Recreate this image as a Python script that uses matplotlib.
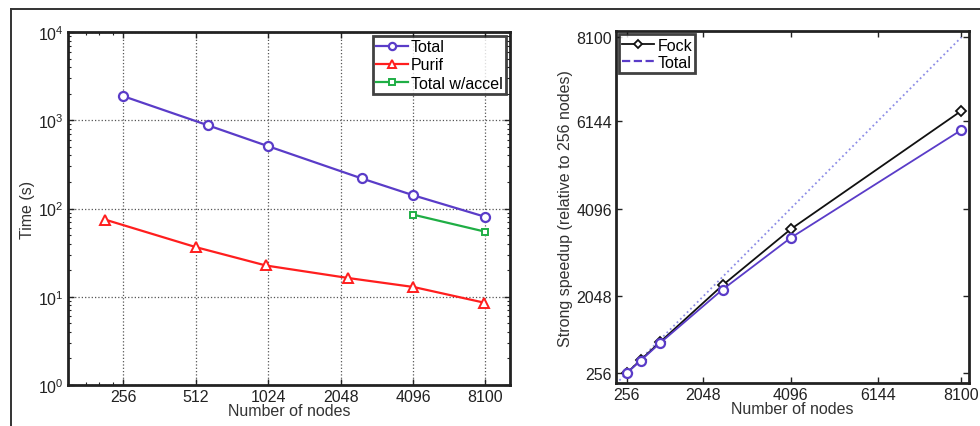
import matplotlib
matplotlib.use("Agg")
import matplotlib.pyplot as plt
from matplotlib.lines import Line2D
from matplotlib.ticker import FixedLocator, LogLocator, NullFormatter

plt.rcParams['font.family'] = ['Liberation Sans', 'DejaVu Sans']
plt.rcParams['mathtext.fontset'] = 'custom'
plt.rcParams['mathtext.rm'] = 'Liberation Sans'

# ---- data (left panel) ----
total_nodes = [256, 576, 1024, 2500, 4096, 8100]
total_time = [1875, 875, 507, 219, 141, 80.7]
purif_nodes = [216, 512, 1000, 2197, 4096, 8000]
purif_time = [74.6, 36.5, 22.6, 16.3, 12.9, 8.6]
accel_nodes = [4096, 8100]
accel_time = [85, 54.7]
left_xticks = [256, 512, 1024, 2048, 4096, 8100]

# ---- data (right panel) ----
speed_nodes = [256, 576, 1024, 2500, 4096, 8100]
fock_speedup = [256, 557, 968, 2305, 3613, 6381]
total_speedup = [256, 541, 945, 2205, 3411, 5933]
ideal_nodes = [0, 8100]
ideal_speedup = [0, 8100]
right_ticks = [256, 2048, 4096, 6144, 8100]

PURPLE = '#5a3cc8'
RED = '#ff1e1e'
GREEN = '#1fae45'
IDEAL = '#8c8ce6'

fig = plt.figure(figsize=(9.8, 4.27), dpi=100)

# outer frame
fig.add_artist(Line2D([11/980, 1.0], [1-10/427, 1-10/427], transform=fig.transFigure,
                      color='#333333', lw=1.4))
fig.add_artist(Line2D([11/980, 11/980], [0, 1-10/427], transform=fig.transFigure,
                      color='#333333', lw=1.4))

FS = 11.5
LFS = 11.5

# ---------------- left panel ----------------
ax = fig.add_axes([68/980, 1-386/427, 442/980, 353/427])
ax.set_xscale('log')
ax.set_yscale('log')
ax.plot(total_nodes, total_time, '-o', color=PURPLE, lw=1.6, ms=6.5,
        mfc='white', mec=PURPLE, mew=1.6, label='Total', zorder=3)
ax.plot(purif_nodes, purif_time, '-^', color=RED, lw=1.6, ms=7,
        mfc='white', mec=RED, mew=1.4, label='Purif', zorder=3)
ax.plot(accel_nodes, accel_time, '-s', color=GREEN, lw=1.6, ms=5,
        mfc='white', mec=GREEN, mew=1.4, label='Total w/accel', zorder=3)
ax.set_xlim(151, 10300)
ax.set_ylim(1, 1e4)
ax.xaxis.set_major_locator(FixedLocator(left_xticks))
ax.set_xticklabels([str(t) for t in left_xticks])
ax.xaxis.set_minor_locator(FixedLocator([180, 203, 231]))
ax.xaxis.set_minor_formatter(NullFormatter())
ax.yaxis.set_major_locator(FixedLocator([1, 10, 100, 1000, 10000]))
ax.set_yticklabels([r'$10^{0}$', r'$10^{1}$', r'$10^{2}$', r'$10^{3}$', r'$10^{4}$'])
ax.yaxis.set_minor_locator(LogLocator(base=10, subs=range(2, 10)))
ax.yaxis.set_minor_formatter(NullFormatter())
ax.grid(True, which='major', linestyle=':', color='#555555', lw=0.9)
ax.tick_params(which='both', direction='in', top=True, right=True, labelsize=FS,
               colors='#222222', pad=3)
ax.tick_params(which='major', length=4, width=1)
ax.tick_params(which='minor', length=2.5, width=0.8)
for s in ax.spines.values():
    s.set_linewidth(2)
    s.set_color('#222222')
ax.set_xlabel('Number of nodes', fontsize=LFS, labelpad=-1, color='#333333')
ax.set_ylabel('Time (s)', fontsize=LFS, labelpad=2, color='#333333')
leg = ax.legend(loc='upper right', fontsize=LFS, frameon=True, fancybox=False,
                borderpad=0.2, handlelength=2.0, handletextpad=0.2, labelspacing=0.2,
                borderaxespad=0.25, markerscale=0.8)
leg.get_frame().set_edgecolor('#111111')
leg.get_frame().set_linewidth(2)

# ---------------- right panel ----------------
bx = fig.add_axes([616/980, 1-384/427, 353/980, 351.7/427])
bx.plot(ideal_nodes, ideal_speedup, ':', color=IDEAL, lw=1.3, zorder=2)
bx.plot(speed_nodes, fock_speedup, '-D', color='#111111', lw=1.3, ms=5,
        mfc='white', mec='#111111', mew=1.3, zorder=3)
bx.plot(speed_nodes, total_speedup, '-o', color=PURPLE, lw=1.3, ms=6.5,
        mfc='white', mec=PURPLE, mew=1.6, zorder=3)
bx.set_xlim(0, 8280)
bx.set_ylim(20, 8240)
bx.set_xticks(right_ticks)
bx.set_xticklabels([str(t) for t in right_ticks])
bx.set_yticks(right_ticks)
bx.set_yticklabels([str(t) for t in right_ticks])
bx.tick_params(direction='in', top=True, right=True, labelsize=FS, length=4, width=1,
               colors='#222222', pad=3)
for s in bx.spines.values():
    s.set_linewidth(2)
    s.set_color('#222222')
bx.set_xlabel('Number of nodes', fontsize=LFS, labelpad=-1, color='#333333')
bx.set_ylabel('Strong speedup (relative to 256 nodes)', fontsize=LFS, labelpad=2,
              color='#333333')
handles = [Line2D([], [], color='#111111', lw=1.3, marker='D', ms=4.5, mfc='white',
                  mec='#111111', mew=1.3),
           Line2D([], [], color=PURPLE, lw=1.6, ls='--')]
leg2 = bx.legend(handles, ['Fock', 'Total'], loc='upper left', fontsize=LFS,
                 frameon=True, fancybox=False, borderpad=0.2, handlelength=2.0,
                 handletextpad=0.2, labelspacing=0.15, borderaxespad=0.2)
leg2.get_frame().set_edgecolor('#111111')
leg2.get_frame().set_linewidth(2)

fig.savefig('out.png', dpi=100)
